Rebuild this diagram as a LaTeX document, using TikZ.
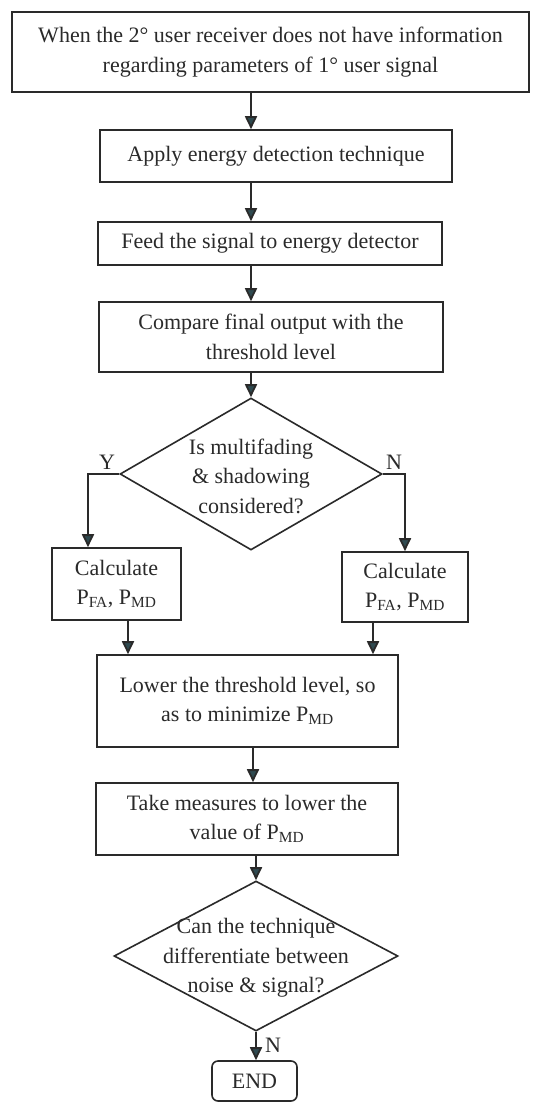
\documentclass[tikz,border=0pt]{standalone}
\usepackage{fontspec}
\setmainfont{Liberation Serif}
\usetikzlibrary{shapes.geometric,arrows.meta}
\definecolor{ink}{HTML}{2A2A2A}
\definecolor{tip}{HTML}{2F4A50}
\begin{document}
\begin{tikzpicture}[x=1pt,y=-1pt,
  every node/.style={font=\fontsize{22}{29.5}\selectfont, text=ink},
  stepbox/.style={draw=ink, line width=1.6pt, rectangle, inner sep=0pt, align=center},
  decision/.style={draw=ink, line width=1.6pt, diamond, inner sep=0pt},
  endbox/.style={draw=ink, line width=1.6pt, rectangle, rounded corners=6pt, inner sep=0pt},
  arr/.style={draw=ink, line width=1.8pt, -{Triangle[length=13pt,width=12pt,fill=tip]}},
  yn/.style={inner sep=0pt}]
\useasboundingbox (0,0) rectangle (533,1102);
\fill[white] (0,0) rectangle (533,1102);

% process boxes
\node[stepbox, minimum width=517pt, minimum height=80pt] (b1) at (270.5,52)
  {When the 2° user receiver does not have information\\regarding parameters of 1° user signal};
\node[stepbox, minimum width=352pt, minimum height=52pt] (b2) at (276,156)
  {Apply energy detection technique};
\node[stepbox, minimum width=344pt, minimum height=43pt] (b3) at (270,243.5)
  {Feed the signal to energy detector};
\node[stepbox, minimum width=344pt, minimum height=70pt] (b4) at (271,337)
  {Compare final output with the\\threshold level};

% first decision
\node[decision, minimum width=262pt, minimum height=152pt] (d1) at (251,474) {};
\node[align=center] (t1) at (251,476) {Is multifading\\\& shadowing\\considered?};
\node[yn] (ylab) at (107,462) {Y};
\node[yn] (nlab) at (394,462) {N};

\node[stepbox, minimum width=129pt, minimum height=72pt] (b5) at (116.5,584)
  {Calculate\\P\textsubscript{FA}, P\textsubscript{MD}};
\node[stepbox, minimum width=126pt, minimum height=70pt] (b6) at (405,587)
  {Calculate\\P\textsubscript{FA}, P\textsubscript{MD}};

\node[stepbox, minimum width=301pt, minimum height=92pt] (b7) at (247.5,701)
  {Lower the threshold level, so\\as to minimize P\textsubscript{MD}};
\node[stepbox, minimum width=302pt, minimum height=72pt] (b8) at (247,819)
  {Take measures to lower the\\value of P\textsubscript{MD}};

% second decision
\node[decision, minimum width=284pt, minimum height=150pt] (d2) at (256,956) {};
\node[align=center] (t2) at (256,958) {Can the technique\\differentiate between\\noise \& signal?};
\node[yn] (nlab2) at (273,1045) {N};

\node[endbox, minimum width=85pt, minimum height=40pt] (e) at (254.5,1081) {END};

% spine positions
\coordinate (sx) at (251,0);
\coordinate (sy) at (253,0);
\coordinate (sz) at (256,0);
\coordinate (ly) at (88,474);
\coordinate (ry) at (405,474);
\coordinate (lx) at (128,0);
\coordinate (rx) at (373,0);

% connectors
\draw[arr] (b1.south -| sx) -- (b2.north -| sx);
\draw[arr] (b2.south -| sx) -- (b3.north -| sx);
\draw[arr] (b3.south -| sx) -- (b4.north -| sx);
\draw[arr] (b4.south -| sx) -- (d1.north);
\draw[arr] (d1.west) -- (ly) -- (b5.north -| ly);
\draw[arr] (d1.east) -- (ry) -- (b6.north -| ry);
\draw[arr] (b5.south -| lx) -- (b7.north -| lx);
\draw[arr] (b6.south -| rx) -- (b7.north -| rx);
\draw[arr] (b7.south -| sy) -- (b8.north -| sy);
\draw[arr] (b8.south -| sz) -- (d2.north);
\draw[arr] (d2.south) -- (e.north -| d2.south);
\end{tikzpicture}
\end{document}
